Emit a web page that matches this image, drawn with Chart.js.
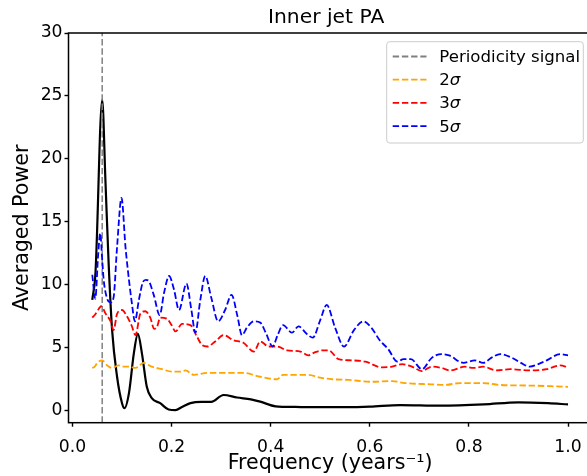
<!DOCTYPE html>
<html>
<head>
<meta charset="utf-8">
<script src="https://cdn.jsdelivr.net/npm/chart.js@4.4.1/dist/chart.umd.min.js"></script>
<style>
  html, body { margin: 0; padding: 0; background: #fff; overflow: hidden; }
  #wrap { width: 594px; height: 476px; }
</style>
</head>
<body>
<div id="wrap"><canvas id="powerChart" width="594" height="476"></canvas></div>
<script>
// Averaged power of the inner jet PA (black curve)
const powerFreq = [0.040, 0.0465, 0.060, 0.0665, 0.073, 0.080, 0.090, 0.100, 0.105, 0.114,
    0.124, 0.132, 0.140, 0.150, 0.160, 0.177, 0.194, 0.208, 0.221, 0.238,
    0.260, 0.280, 0.305, 0.332, 0.360, 0.379, 0.410, 0.450, 0.480, 0.550,
    0.600, 0.661, 0.742, 0.830, 0.900, 0.960, 1.000];
const powerValues = [8.8, 11.0, 24.7, 18.3, 11.7, 6.4, 2.7, 0.6, 0.2, 1.4,
    4.6, 6.1, 4.6, 1.9, 1.0, 0.6, 0.1, 0.05, 0.3, 0.6,
    0.7, 0.7, 1.25, 1.05, 0.9, 0.72, 0.35, 0.3, 0.28, 0.28,
    0.32, 0.45, 0.4, 0.5, 0.67, 0.6, 0.5];

// 2 sigma level
const sig2Freq = [0.040, 0.045, 0.050, 0.060, 0.070, 0.080, 0.093, 0.104, 0.114, 0.127,
    0.144, 0.160, 0.181, 0.200, 0.218, 0.228, 0.245, 0.272, 0.319, 0.345,
    0.379, 0.413, 0.425, 0.476, 0.497, 0.524, 0.557, 0.604, 0.645, 0.671,
    0.725, 0.752, 0.782, 0.829, 0.863, 0.923, 1.000];
const sig2Power = [3.4, 3.5, 3.8, 4.0, 3.6, 3.4, 3.6, 3.5, 3.5, 3.4,
    3.8, 3.5, 3.3, 3.1, 3.1, 3.2, 2.85, 3.0, 3.0, 3.0,
    2.7, 2.5, 2.85, 2.85, 2.65, 2.5, 2.45, 2.3, 2.35, 2.2,
    2.1, 2.05, 2.2, 2.2, 2.05, 2.0, 1.9];

// 3 sigma level
const sig3Freq = [0.040, 0.045, 0.050, 0.058, 0.067, 0.077, 0.083, 0.090, 0.100, 0.110,
    0.120, 0.127, 0.137, 0.147, 0.157, 0.165, 0.171, 0.177, 0.191, 0.200,
    0.208, 0.221, 0.238, 0.251, 0.262, 0.272, 0.288, 0.305, 0.325, 0.345,
    0.366, 0.379, 0.396, 0.413, 0.433, 0.460, 0.476, 0.487, 0.505, 0.517,
    0.537, 0.564, 0.591, 0.624, 0.645, 0.665, 0.685, 0.705, 0.725, 0.745,
    0.762, 0.792, 0.809, 0.829, 0.856, 0.883, 0.923, 0.957, 0.984, 1.000];
const sig3Power = [7.4, 7.6, 7.9, 8.3, 7.7, 7.1, 6.4, 7.7, 8.0, 7.5,
    6.7, 6.0, 7.7, 7.9, 7.4, 6.5, 6.7, 7.4, 7.3, 6.8,
    6.3, 6.9, 6.8, 5.9, 5.2, 5.1, 5.5, 6.0, 5.6, 5.4,
    4.7, 5.5, 5.1, 5.1, 4.8, 4.7, 4.4, 4.6, 4.8, 4.8,
    4.1, 4.0, 3.9, 3.45, 3.5, 3.7, 3.5, 3.15, 3.5, 3.4,
    3.2, 3.5, 3.4, 3.5, 3.2, 3.3, 3.2, 3.3, 3.6, 3.45];

// 5 sigma level
const sig5Freq = [0.040, 0.046, 0.052, 0.056, 0.060, 0.063, 0.070, 0.077, 0.083, 0.090,
    0.099, 0.107, 0.114, 0.120, 0.126, 0.134, 0.142, 0.148, 0.154, 0.164,
    0.176, 0.185, 0.195, 0.205, 0.215, 0.230, 0.240, 0.248, 0.258, 0.268,
    0.280, 0.294, 0.308, 0.321, 0.333, 0.342, 0.352, 0.366, 0.379, 0.390,
    0.404, 0.414, 0.425, 0.443, 0.456, 0.473, 0.485, 0.500, 0.513, 0.530,
    0.548, 0.568, 0.587, 0.603, 0.620, 0.637, 0.656, 0.668, 0.683, 0.705,
    0.725, 0.745, 0.760, 0.789, 0.812, 0.829, 0.845, 0.863, 0.887, 0.905,
    0.923, 0.940, 0.957, 0.984, 1.000];
const sig5Power = [10.8, 8.9, 12.5, 14.1, 12.0, 10.4, 8.9, 8.6, 9.0, 13.0,
    16.9, 13.0, 10.4, 8.5, 7.1, 8.8, 10.2, 10.4, 10.3, 9.2,
    7.6, 9.4, 10.7, 9.6, 8.0, 10.1, 8.0, 6.2, 8.8, 10.7,
    9.0, 7.1, 8.0, 9.2, 7.5, 6.0, 6.6, 7.1, 7.0, 6.2,
    5.1, 6.0, 6.8, 6.2, 6.7, 6.1, 5.8, 7.2, 8.4, 6.6,
    5.1, 6.4, 7.1, 6.6, 5.6, 4.9, 3.9, 4.1, 4.1, 3.3,
    4.2, 4.5, 4.4, 3.8, 4.0, 3.8, 4.2, 4.5, 4.2, 3.8,
    3.5, 3.7, 4.0, 4.5, 4.4];

const signalFreq = 0.06;

const xTickValues = [0.0, 0.2, 0.4, 0.6, 0.8, 1.0];
const yTickValues = [0, 5, 10, 15, 20, 25, 30];
const legendLabels = ['Periodicity signal', '2σ', '3σ', '5σ'];
const legendColors = ['gray', 'orange', 'red', 'blue'];

const X_MIN = -0.008, X_MAX = 1.048;
const Y_MIN = -0.95, Y_MAX = 30;
const FONT = "'DejaVu Sans', sans-serif";
const DASH = [6.4, 2.8];

function toPoints(xs, ys) {
    return xs.map((x, i) => ({ x: x, y: ys[i] }));
}

function dashedSet(label, xs, ys, color) {
    return {
        label: label,
        data: toPoints(xs, ys),
        borderColor: color,
        borderWidth: 1.8,
        borderDash: DASH,
        borderCapStyle: 'butt',
        borderJoinStyle: 'round',
        cubicInterpolationMode: 'monotone',
        pointRadius: 0,
        fill: false
    };
}

// axes frame drawn on top of the curves, like matplotlib spines
const framePlugin = {
    id: 'frame',
    afterDatasetsDraw(chart) {
        const { ctx, chartArea: a } = chart;
        ctx.save();
        ctx.strokeStyle = '#000';
        ctx.lineWidth = 1.5;
        ctx.strokeRect(a.left, a.top, a.right - a.left, a.bottom - a.top);
        ctx.restore();
    }
};

// title and the legend box in the upper right
const decorPlugin = {
    id: 'decor',
    afterDraw(chart) {
        const { ctx, chartArea: a } = chart;
        ctx.save();
        ctx.fillStyle = '#000';
        ctx.font = '20.3px ' + FONT;
        ctx.textAlign = 'center';
        ctx.textBaseline = 'alphabetic';
        ctx.fillText('Inner jet PA', (a.left + a.right) / 2 - 4, a.top - 10.3);

        const bx = 386.7, by = 41.7, bw = 196.6, bh = 101.3, r = 3;
        ctx.beginPath();
        ctx.moveTo(bx + r, by);
        ctx.arcTo(bx + bw, by, bx + bw, by + bh, r);
        ctx.arcTo(bx + bw, by + bh, bx, by + bh, r);
        ctx.arcTo(bx, by + bh, bx, by, r);
        ctx.arcTo(bx, by, bx + bw, by, r);
        ctx.closePath();
        ctx.fillStyle = 'rgba(255,255,255,0.8)';
        ctx.fill();
        ctx.strokeStyle = '#cccccc';
        ctx.lineWidth = 1;
        ctx.stroke();

        ctx.textAlign = 'left';
        legendLabels.forEach((label, i) => {
            const base = 62 + i * 23.2;
            const ly = base - 5.5;
            ctx.beginPath();
            ctx.setLineDash(DASH);
            ctx.lineCap = 'butt';
            ctx.strokeStyle = legendColors[i];
            ctx.lineWidth = 1.8;
            ctx.moveTo(392.7, ly);
            ctx.lineTo(426.5, ly);
            ctx.stroke();
            ctx.setLineDash([]);

            ctx.fillStyle = '#000';
            let tx = 439.3;
            if (label.endsWith('σ')) {
                const head = label.slice(0, -1);
                ctx.font = '16.6px ' + FONT;
                ctx.fillText(head, tx, base);
                tx += ctx.measureText(head).width;
                ctx.font = 'italic 16.6px ' + FONT;
                ctx.fillText('σ', tx, base);
            } else {
                ctx.font = '16.6px ' + FONT;
                ctx.fillText(label, tx, base);
            }
        });
        ctx.restore();
    }
};

const chartCtx = document.getElementById('powerChart').getContext('2d');

new Chart(chartCtx, {
    type: 'line',
    data: {
        datasets: [
            dashedSet('5σ', sig5Freq, sig5Power, 'blue'),
            dashedSet('3σ', sig3Freq, sig3Power, 'red'),
            dashedSet('2σ', sig2Freq, sig2Power, 'orange'),
            {
                label: 'Periodicity signal',
                data: [{ x: signalFreq, y: Y_MIN }, { x: signalFreq, y: Y_MAX }],
                borderColor: 'gray',
                borderWidth: 1.5,
                borderDash: DASH,
                pointRadius: 0,
                fill: false
            },
            {
                label: 'Averaged power',
                data: toPoints(powerFreq, powerValues),
                borderColor: '#000',
                borderWidth: 2.2,
                borderJoinStyle: 'round',
                cubicInterpolationMode: 'monotone',
                pointRadius: 0,
                fill: false
            }
        ]
    },
    options: {
        responsive: false,
        animation: false,
        events: [],
        layout: { padding: { top: 33, right: 2.2, bottom: 0, left: 0 } },
        plugins: {
            legend: { display: false },
            title: { display: false },
            tooltip: { enabled: false }
        },
        scales: {
            x: {
                type: 'linear',
                min: X_MIN,
                max: X_MAX,
                afterBuildTicks: s => { s.ticks = xTickValues.map(v => ({ value: v })); },
                afterFit: s => { s.height = 53.3; },
                ticks: {
                    callback: v => v.toFixed(1),
                    font: { family: FONT, size: 17.2 },
                    color: '#000',
                    padding: 11,
                    maxRotation: 0,
                    autoSkip: false
                },
                grid: { display: true, drawOnChartArea: false, drawTicks: true, tickLength: 4, tickWidth: 1.4, tickColor: '#000' },
                border: { display: false },
                title: {
                    display: true,
                    text: 'Frequency (years⁻¹)',
                    font: { family: FONT, size: 20.6 },
                    color: '#000',
                    padding: { top: 0, bottom: 0 }
                }
            },
            y: {
                type: 'linear',
                min: Y_MIN,
                max: Y_MAX,
                afterBuildTicks: s => { s.ticks = yTickValues.map(v => ({ value: v })); },
                afterFit: s => { s.width = 68.5; },
                ticks: {
                    callback: v => String(v),
                    font: { family: FONT, size: 17.2 },
                    color: '#000',
                    padding: 2,
                    autoSkip: false
                },
                grid: { display: true, drawOnChartArea: false, drawTicks: true, tickLength: 4, tickWidth: 1.4, tickColor: '#000' },
                border: { display: false },
                title: {
                    display: true,
                    text: 'Averaged Power',
                    font: { family: FONT, size: 20.6 },
                    color: '#000',
                    padding: { top: 10, bottom: 0 }
                }
            }
        }
    },
    plugins: [framePlugin, decorPlugin]
});
</script>
</body>
</html>
